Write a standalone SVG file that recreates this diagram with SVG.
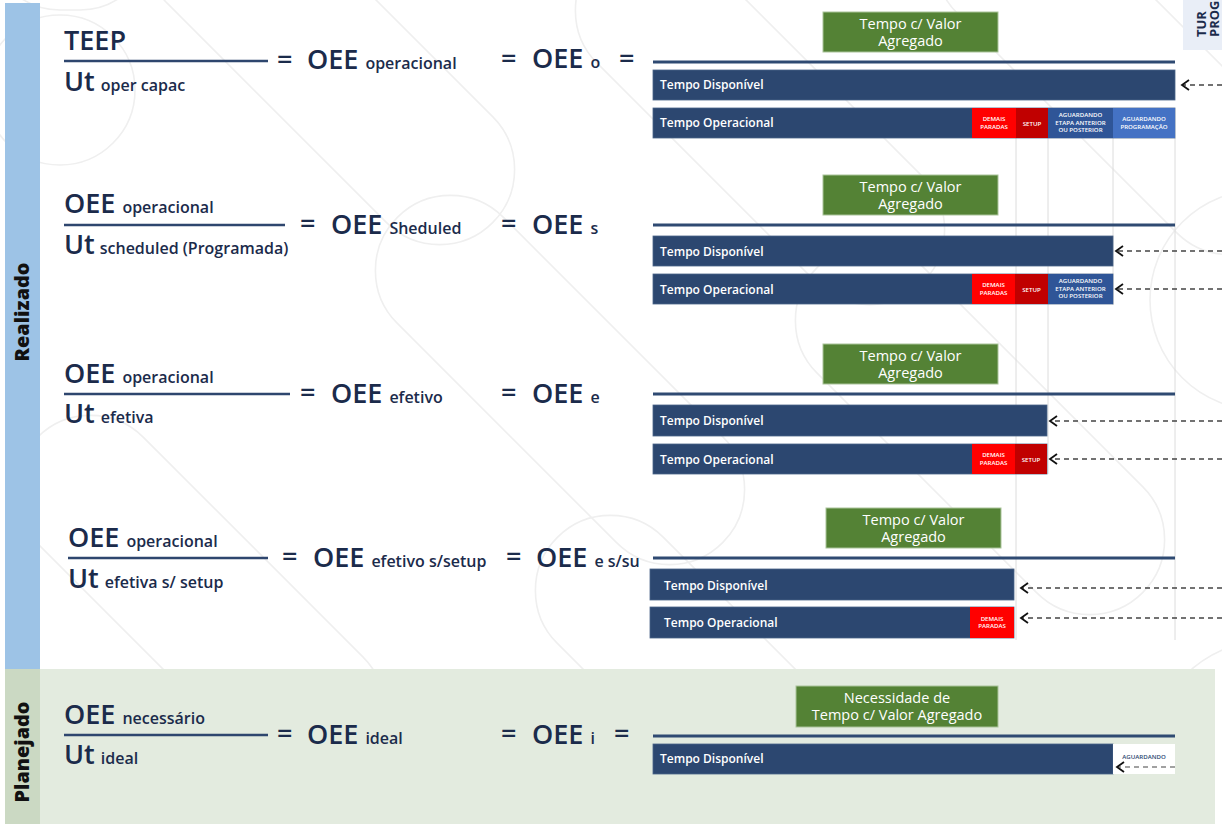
<svg xmlns="http://www.w3.org/2000/svg" width="1222" height="824" viewBox="0 0 1222 824">
  <defs>
    <style>
      .eq { font-family: "Open Sans", "Noto Sans", sans-serif; font-weight: 600; fill: #1b2b4b; }
      .big { font-size: 27px; }
      .sub { font-size: 16px; }
      .frac { stroke: #2e466e; stroke-width: 2.5; }
      .sep { stroke: #2f4a72; stroke-width: 3; }
      .bar { fill: #2c4770; stroke: #4a6488; stroke-width: 0.8; }
      .bar-t { font-family: "Open Sans", "Noto Sans", sans-serif; font-weight: 600; font-size: 12px; fill: #ffffff; }
      .box { fill: #548235; stroke: #a9c39a; stroke-width: 1; }
      .box-t { font-family: "Open Sans", "Noto Sans", sans-serif; font-weight: 400; font-size: 14.5px; fill: #ffffff; text-anchor: middle; }
      .tiny { font-family: "Open Sans", "Noto Sans", sans-serif; font-weight: 600; font-size: 6.1px; fill: #ffffff; text-anchor: middle; }
      .red { fill: #ff0000; }
      .dred { fill: #c00000; }
      .blue2 { fill: #2f5597; }
      .blue3 { fill: #4472c4; }
      .guide { stroke: #dcdcdc; stroke-width: 1; }
      .side { font-family: "Open Sans", "Noto Sans", sans-serif; font-weight: 800; font-size: 19px; fill: #111111; text-anchor: middle; }
      .corner { font-family: "Open Sans", "Noto Sans", sans-serif; font-weight: 700; font-size: 13px; fill: #1b2b4b; }
      .deco { fill: none; stroke: #efefef; stroke-width: 1.6; }
      .dash { stroke: #444444; stroke-width: 1.3; stroke-dasharray: 5 4; fill: none; }
    </style>
    <marker id="chev" markerUnits="userSpaceOnUse" markerWidth="12" markerHeight="14" refX="8" refY="6" orient="auto">
      <path d="M1,1 L8,6 L1,11" fill="none" stroke="#111111" stroke-width="1.8"/>
    </marker>
  </defs>

  <rect x="0" y="0" width="1222" height="824" fill="#ffffff"/>

  <!-- faint decorative background outlines -->
  <g id="background-pattern" class="deco">
    <rect x="-80" y="-70" width="160" height="140" rx="70" transform="translate(70,-60)"/>
    <rect x="-230" y="-75" width="460" height="150" rx="75" transform="translate(330,60) rotate(45)"/>
    <rect x="-230" y="-75" width="460" height="150" rx="75" transform="translate(760,120) rotate(45)"/>
    <rect x="-230" y="-75" width="460" height="150" rx="75" transform="translate(1120,70) rotate(45)"/>
    <rect x="-230" y="-75" width="460" height="150" rx="75" transform="translate(560,380) rotate(45)"/>
    <rect x="-230" y="-75" width="460" height="150" rx="75" transform="translate(980,430) rotate(45)"/>
    <rect x="-230" y="-75" width="460" height="150" rx="75" transform="translate(200,600) rotate(45)"/>
    <rect x="-230" y="-75" width="460" height="150" rx="75" transform="translate(720,700) rotate(45)"/>
    <circle cx="60" cy="90" r="75"/>
    <circle cx="1260" cy="300" r="110"/>
    <circle cx="1270" cy="760" r="120"/>
  </g>

  <!-- side bands -->
  <g id="band-realizado">
    <rect x="5" y="3" width="35" height="666" fill="#9dc3e6"/>
    <text class="side" transform="translate(29,312) rotate(-90)" textLength="99" lengthAdjust="spacingAndGlyphs">Realizado</text>
  </g>
  <g id="band-planejado">
    <rect x="40" y="669" width="1175" height="155" fill="#e3ebdf"/>
    <rect x="5" y="669" width="35" height="155" fill="#cbd9c3"/>
    <text class="side" transform="translate(29,752) rotate(-90)" textLength="101" lengthAdjust="spacingAndGlyphs">Planejado</text>
  </g>

  <!-- corner header -->
  <g id="corner-header">
    <rect x="1183" y="0" width="39" height="50" fill="#e9eef7"/>
    <text class="corner" transform="translate(1206,37) rotate(-90)">TUR</text>
    <text class="corner" transform="translate(1219,37) rotate(-90)">PROG</text>
  </g>

  <!-- vertical guides -->
  <g id="guides">
    <line class="guide" x1="1016" y1="138" x2="1016" y2="640"/>
    <line class="guide" x1="1048" y1="138" x2="1048" y2="474"/>
    <line class="guide" x1="1113" y1="138" x2="1113" y2="305"/>
    <line class="guide" x1="1175" y1="138" x2="1175" y2="640"/>
  </g>

  <!-- equations -->
  <g id="eq-teep" class="eq">
    <text class="big" x="64" y="50">TEEP</text>
    <line class="frac" x1="64" y1="61" x2="268" y2="61"/>
    <text x="64" y="91"><tspan class="big">Ut</tspan><tspan class="sub" dx="6">oper capac</tspan></text>
    <text class="big" x="277" y="69">=</text>
    <text x="307" y="69"><tspan class="big">OEE</tspan><tspan class="sub" dx="7">operacional</tspan></text>
    <text class="big" x="501" y="68">=</text>
    <text x="532" y="68"><tspan class="big">OEE</tspan><tspan class="sub" dx="7">o</tspan></text>
    <text class="big" x="619" y="68">=</text>
  </g>

  <g id="eq-scheduled" class="eq">
    <text x="64" y="213"><tspan class="big">OEE</tspan><tspan class="sub" dx="7">operacional</tspan></text>
    <line class="frac" x1="64" y1="225" x2="285" y2="225"/>
    <text x="64" y="254"><tspan class="big">Ut</tspan><tspan class="sub" dx="5">scheduled (Programada)</tspan></text>
    <text class="big" x="300" y="233">=</text>
    <text x="331" y="234"><tspan class="big">OEE</tspan><tspan class="sub" dx="7">Sheduled</tspan></text>
    <text class="big" x="501" y="233">=</text>
    <text x="532" y="234"><tspan class="big">OEE</tspan><tspan class="sub" dx="7">s</tspan></text>
  </g>

  <g id="eq-efetivo" class="eq">
    <text x="64" y="383"><tspan class="big">OEE</tspan><tspan class="sub" dx="7">operacional</tspan></text>
    <line class="frac" x1="64" y1="394" x2="290" y2="394"/>
    <text x="64" y="423"><tspan class="big">Ut</tspan><tspan class="sub" dx="6">efetiva</tspan></text>
    <text class="big" x="300" y="402">=</text>
    <text x="331" y="403"><tspan class="big">OEE</tspan><tspan class="sub" dx="7">efetivo</tspan></text>
    <text class="big" x="501" y="402">=</text>
    <text x="532" y="403"><tspan class="big">OEE</tspan><tspan class="sub" dx="7">e</tspan></text>
  </g>

  <g id="eq-efetivo-sem-setup" class="eq">
    <text x="68" y="547"><tspan class="big">OEE</tspan><tspan class="sub" dx="7">operacional</tspan></text>
    <line class="frac" x1="68" y1="558" x2="268" y2="558"/>
    <text x="68" y="588"><tspan class="big">Ut</tspan><tspan class="sub" dx="6">efetiva s/ setup</tspan></text>
    <text class="big" x="282" y="566">=</text>
    <text x="313" y="567"><tspan class="big">OEE</tspan><tspan class="sub" dx="7">efetivo s/setup</tspan></text>
    <text class="big" x="506" y="566">=</text>
    <text x="536" y="567"><tspan class="big">OEE</tspan><tspan class="sub" dx="7">e s/su</tspan></text>
  </g>

  <g id="eq-ideal" class="eq">
    <text x="64" y="724"><tspan class="big">OEE</tspan><tspan class="sub" dx="7">necessário</tspan></text>
    <line class="frac" x1="64" y1="735" x2="268" y2="735"/>
    <text x="64" y="764"><tspan class="big">Ut</tspan><tspan class="sub" dx="6">ideal</tspan></text>
    <text class="big" x="277" y="743">=</text>
    <text x="307" y="744"><tspan class="big">OEE</tspan><tspan class="sub" dx="7">ideal</tspan></text>
    <text class="big" x="501" y="743">=</text>
    <text x="532" y="744"><tspan class="big">OEE</tspan><tspan class="sub" dx="7">i</tspan></text>
    <text class="big" x="614" y="743">=</text>
  </g>

  <!-- row 1: operacional -->
  <g id="row1-valor">
    <rect class="box" x="823" y="12" width="175" height="40"/>
    <text class="box-t" x="910.5" y="29">Tempo c/ Valor</text>
    <text class="box-t" x="910.5" y="46">Agregado</text>
  </g>
  <line class="sep" x1="653" y1="62" x2="1175" y2="62"/>
  <g id="row1-disponivel">
    <rect class="bar" x="653" y="70" width="522" height="30"/>
    <text class="bar-t" x="660" y="89">Tempo Disponível</text>
  </g>
  <g id="row1-operacional">
    <rect class="bar" x="653" y="108" width="522" height="30"/>
    <rect class="red" x="972" y="108" width="44" height="30"/>
    <rect class="dred" x="1016" y="108" width="32" height="30"/>
    <rect class="blue2" x="1048" y="108" width="65" height="30"/>
    <rect class="blue3" x="1113" y="108" width="62" height="30"/>
    <text class="bar-t" x="660" y="127">Tempo Operacional</text>
    <text class="tiny" x="994" y="121">DEMAIS</text>
    <text class="tiny" x="994" y="128.5">PARADAS</text>
    <text class="tiny" x="1032" y="125.5">SETUP</text>
    <text class="tiny" x="1080.5" y="117">AGUARDANDO</text>
    <text class="tiny" x="1080.5" y="124.5">ETAPA ANTERIOR</text>
    <text class="tiny" x="1080.5" y="132">OU POSTERIOR</text>
    <text class="tiny" x="1144" y="121">AGUARDANDO</text>
    <text class="tiny" x="1144" y="128.5">PROGRAMAÇÃO</text>
  </g>

  <!-- row 2: scheduled -->
  <g id="row2-valor">
    <rect class="box" x="823" y="175" width="175" height="40"/>
    <text class="box-t" x="910.5" y="192">Tempo c/ Valor</text>
    <text class="box-t" x="910.5" y="209">Agregado</text>
  </g>
  <line class="sep" x1="653" y1="225" x2="1175" y2="225"/>
  <g id="row2-disponivel">
    <rect class="bar" x="653" y="236" width="460" height="30"/>
    <text class="bar-t" x="660" y="256">Tempo Disponível</text>
  </g>
  <g id="row2-operacional">
    <rect class="bar" x="653" y="274" width="460" height="30"/>
    <rect class="red" x="972" y="274" width="43" height="30"/>
    <rect class="dred" x="1015" y="274" width="33" height="30"/>
    <rect class="blue2" x="1048" y="274" width="65" height="30"/>
    <text class="bar-t" x="660" y="294">Tempo Operacional</text>
    <text class="tiny" x="993.5" y="287">DEMAIS</text>
    <text class="tiny" x="993.5" y="294.5">PARADAS</text>
    <text class="tiny" x="1031.5" y="291.5">SETUP</text>
    <text class="tiny" x="1080.5" y="283">AGUARDANDO</text>
    <text class="tiny" x="1080.5" y="290.5">ETAPA ANTERIOR</text>
    <text class="tiny" x="1080.5" y="298">OU POSTERIOR</text>
  </g>

  <!-- row 3: efetivo -->
  <g id="row3-valor">
    <rect class="box" x="823" y="344" width="175" height="40"/>
    <text class="box-t" x="910.5" y="361">Tempo c/ Valor</text>
    <text class="box-t" x="910.5" y="378">Agregado</text>
  </g>
  <line class="sep" x1="653" y1="394" x2="1175" y2="394"/>
  <g id="row3-disponivel">
    <rect class="bar" x="653" y="405" width="394" height="31"/>
    <text class="bar-t" x="660" y="425">Tempo Disponível</text>
  </g>
  <g id="row3-operacional">
    <rect class="bar" x="653" y="444" width="394" height="30"/>
    <rect class="red" x="972" y="444" width="43" height="30"/>
    <rect class="dred" x="1015" y="444" width="32" height="30"/>
    <text class="bar-t" x="660" y="464">Tempo Operacional</text>
    <text class="tiny" x="993.5" y="457">DEMAIS</text>
    <text class="tiny" x="993.5" y="464.5">PARADAS</text>
    <text class="tiny" x="1031" y="461.5">SETUP</text>
  </g>

  <!-- row 4: efetivo sem setup -->
  <g id="row4-valor">
    <rect class="box" x="826" y="508" width="175" height="40"/>
    <text class="box-t" x="913.5" y="525">Tempo c/ Valor</text>
    <text class="box-t" x="913.5" y="542">Agregado</text>
  </g>
  <line class="sep" x1="653" y1="558" x2="1175" y2="558"/>
  <g id="row4-disponivel">
    <rect class="bar" x="650" y="569" width="364" height="31"/>
    <text class="bar-t" x="664" y="590">Tempo Disponível</text>
  </g>
  <g id="row4-operacional">
    <rect class="bar" x="650" y="607" width="364" height="31"/>
    <rect class="red" x="970" y="607" width="44" height="31"/>
    <text class="bar-t" x="664" y="627">Tempo Operacional</text>
    <text class="tiny" x="992" y="620.5">DEMAIS</text>
    <text class="tiny" x="992" y="628">PARADAS</text>
  </g>

  <!-- row 5: ideal -->
  <g id="row5-valor">
    <rect class="box" x="796" y="686" width="202" height="41"/>
    <text class="box-t" x="897" y="703">Necessidade de</text>
    <text class="box-t" x="897" y="720">Tempo c/ Valor Agregado</text>
  </g>
  <line class="sep" x1="653" y1="736" x2="1175" y2="736"/>
  <g id="row5-disponivel">
    <rect class="bar" x="653" y="744" width="460" height="30"/>
    <text class="bar-t" x="660" y="763">Tempo Disponível</text>
  </g>
  <g id="row5-aguardando">
    <rect x="1113" y="744" width="62" height="30" fill="#ffffff"/>
    <text class="tiny" x="1144" y="759" style="fill:#2c4770">AGUARDANDO</text>
  </g>

  <!-- dashed connectors -->
  <g id="connectors">
    <line class="dash" x1="1222" y1="85" x2="1182" y2="85" marker-end="url(#chev)"/>
    <line class="dash" x1="1222" y1="251" x2="1116" y2="251" marker-end="url(#chev)"/>
    <line class="dash" x1="1222" y1="289" x2="1116" y2="289" marker-end="url(#chev)"/>
    <line class="dash" x1="1222" y1="421" x2="1050" y2="421" marker-end="url(#chev)"/>
    <line class="dash" x1="1222" y1="459" x2="1050" y2="459" marker-end="url(#chev)"/>
    <line class="dash" x1="1222" y1="588" x2="1021" y2="588" marker-end="url(#chev)"/>
    <line class="dash" x1="1222" y1="618" x2="1021" y2="618" marker-end="url(#chev)"/>
    <line class="dash" x1="1175" y1="767" x2="1117" y2="767" marker-end="url(#chev)" style="stroke-width:1.2"/>
  </g>
</svg>
